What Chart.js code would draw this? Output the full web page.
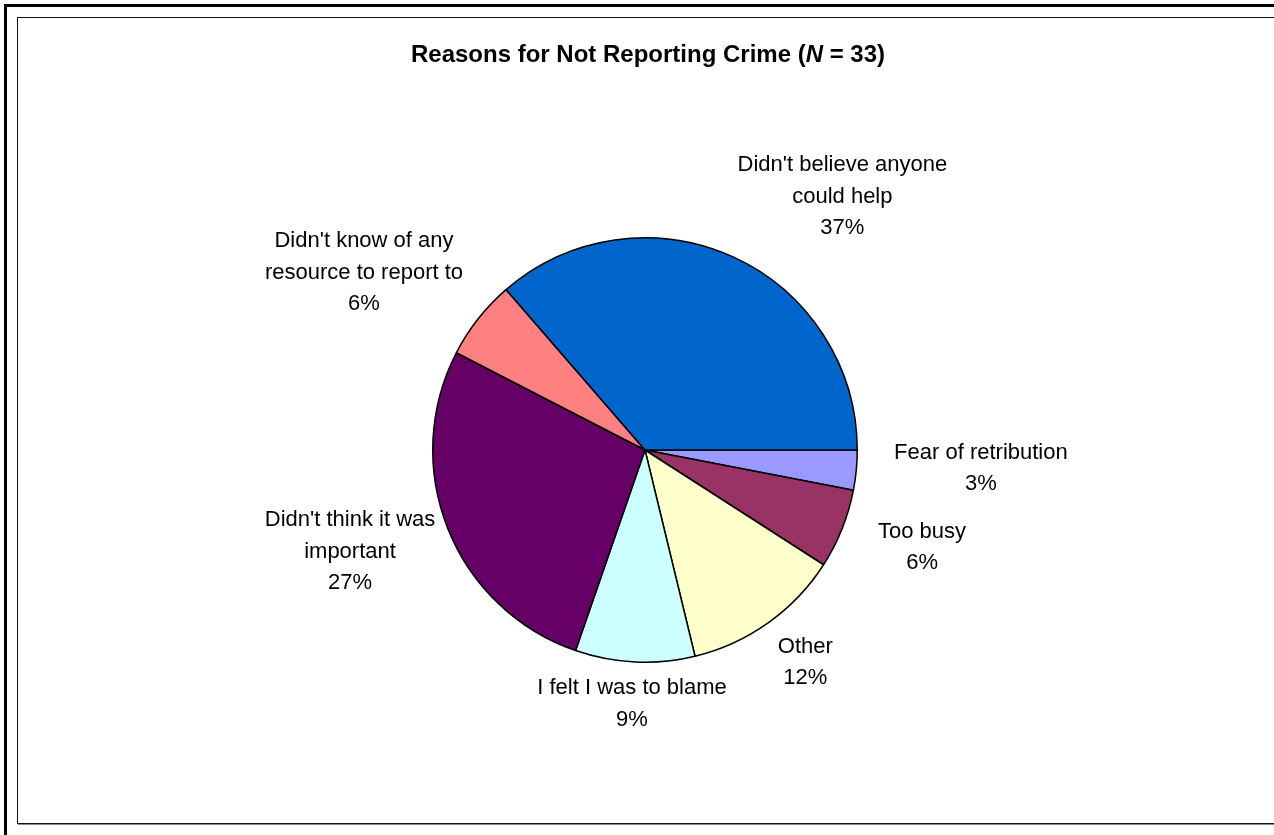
<!DOCTYPE html>
<html>
<head>
<meta charset="utf-8">
<title>Reasons for Not Reporting Crime</title>
<script src="https://cdn.jsdelivr.net/npm/chart.js@4"></script>
<style>
  html, body { margin: 0; padding: 0; background: #fff; }
  body { width: 1274px; height: 835px; position: relative; overflow: hidden; }
  /* thick outer rule (top + left) */
  #outer { position: absolute; left: 4px; top: 4px; width: 1290px; height: 900px;
           border-top: 3px solid #000; border-left: 3px solid #000; }
  /* chart area frame */
  #frame { position: absolute; left: 17px; top: 17px; width: 1300px; height: 805px;
           border: 1px solid #111; box-shadow: 1px 1px 0 #888; }
  #myChart { position: absolute; left: 0; top: 0; }
</style>
</head>
<body>
<div id="outer"></div>
<div id="frame"></div>
<canvas id="myChart" width="1274" height="835"></canvas>
<script>
// ---------------- data (clockwise from 3 o'clock) ----------------
const categories = [
	["Fear of retribution"],
	["Too busy"],
	["Other"],
	["I felt I was to blame"],
	["Didn't think it was", "important"],
	["Didn't know of any", "resource to report to"],
	["Didn't believe anyone", "could help"],
];
const counts = [1, 2, 4, 3, 9, 2, 12];
const pctLabels = ["3%", "6%", "12%", "9%", "27%", "6%", "37%"];
const colors = ["#9999FF", "#993366", "#FFFFCC", "#CCFFFF", "#660066", "#FF8080", "#0066CC"];

const FONT = '"Liberation Sans", Arial, sans-serif';

// where each label sits: [angle nudge in degrees, distance as a multiple of the radius]
const labelPlacement = [
	[-2.3, 1.585],
	[-2.4, 1.384],
	[-1.6, 1.254],
	[0.2, 1.199],
	[2.8, 1.47],
	[-5.9, 1.566],
	[13.4, 1.512],
];

// title with an italic N
const titlePlugin = {
	id: "mixedTitle",
	afterDraw(chart) {
		const ctx = chart.ctx;
		const parts = [
			["bold 24px " + FONT, "Reasons for Not Reporting Crime ("],
			["italic bold 24px " + FONT, "N"],
			["bold 24px " + FONT, " = 33)"],
		];
		ctx.save();
		let total = 0;
		parts.forEach((p) => { ctx.font = p[0]; total += ctx.measureText(p[1]).width; });
		let x = 648 - total / 2;
		ctx.fillStyle = "#000";
		ctx.textBaseline = "alphabetic";
		ctx.textAlign = "left";
		parts.forEach((p) => {
			ctx.font = p[0];
			ctx.fillText(p[1], x, 62);
			x += ctx.measureText(p[1]).width;
		});
		ctx.restore();
	},
};

// slice labels outside the pie
const sliceLabels = {
	id: "sliceLabels",
	afterDatasetsDraw(chart) {
		const ctx = chart.ctx;
		const meta = chart.getDatasetMeta(0);
		ctx.save();
		ctx.font = "22px " + FONT;
		ctx.fillStyle = "#000";
		ctx.textAlign = "center";
		ctx.textBaseline = "middle";
		meta.data.forEach((arc, i) => {
			const p = arc.getProps(["x", "y", "startAngle", "endAngle", "outerRadius"], true);
			const mid = (p.startAngle + p.endAngle) / 2 + labelPlacement[i][0] * Math.PI / 180;
			const dist = p.outerRadius * labelPlacement[i][1];
			const cx = p.x + Math.cos(mid) * dist;
			const cy = p.y + Math.sin(mid) * dist;
			const lines = categories[i].concat([pctLabels[i]]);
			const lh = 31.5;
			lines.forEach((ln, j) => {
				ctx.fillText(ln, cx, cy + (j - (lines.length - 1) / 2) * lh);
			});
		});
		ctx.restore();
	},
};

const ctx = document.getElementById("myChart");
const myChart = new Chart(ctx, {
	type: "pie",
	data: {
		labels: categories.map((c) => c.join(" ")),
		datasets: [
			{
				data: counts,
				backgroundColor: colors,
				borderColor: "#000",
				borderWidth: 1.5,
			},
		],
	},
	options: {
		responsive: false,
		animation: false,
		rotation: 90, // first slice starts at 3 o'clock
		layout: { padding: { top: 237, bottom: 172, left: 16, right: 0 } },
		plugins: {
			legend: { display: false },
			tooltip: { enabled: false },
		},
	},
	plugins: [titlePlugin, sliceLabels],
});
</script>
</body>
</html>
